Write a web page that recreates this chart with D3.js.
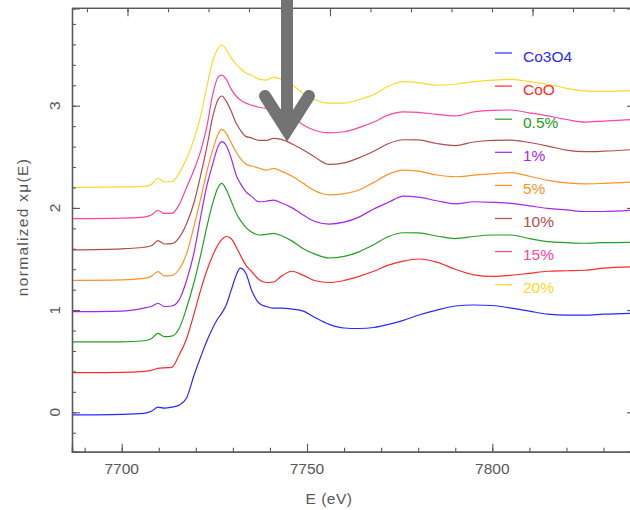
<!DOCTYPE html>
<html><head><meta charset="utf-8">
<script src="https://cdn.jsdelivr.net/npm/d3@7/dist/d3.min.js"></script>
<style>html,body{margin:0;padding:0;background:#fff}svg{display:block}</style>
</head><body>
<svg id="chart" width="630" height="510"></svg>
<script>
// ---- data (offset-stacked normalized xmu(E), as plotted) ----
const energy = [7686, 7700, 7706, 7708, 7709.8, 7711.5, 7713.5, 7715.5, 7717.5, 7719.5, 7721.5, 7723, 7724.5, 7726, 7727, 7728.2, 7729.5, 7731, 7732, 7733.5, 7735, 7737, 7739, 7741, 7743, 7746, 7749, 7752, 7756, 7760, 7764, 7768, 7772, 7776, 7780, 7785, 7790, 7795, 7800, 7805, 7810, 7815, 7820, 7825, 7830, 7839];
const seriesNames = ["Co3O4", "CoO", "0.5%", "1%", "5%", "10%", "15%", "20%"];
const co3o4 = [-0.026,-0.02,-0.01,0.01,0.05,0.04,0.05,0.07,0.14,0.36,0.56,0.70,0.82,0.92,0.97,1.05,1.19,1.35,1.41,1.36,1.20,1.07,1.035,1.02,1.02,1.01,0.99,0.93,0.86,0.825,0.82,0.83,0.86,0.90,0.95,1.0,1.04,1.05,1.045,1.02,0.99,0.96,0.95,0.95,0.96,0.97];
const coo = [0.388,0.39,0.40,0.41,0.43,0.435,0.44,0.56,0.72,0.96,1.22,1.39,1.53,1.64,1.69,1.72,1.70,1.61,1.54,1.44,1.38,1.30,1.27,1.275,1.33,1.38,1.34,1.29,1.27,1.29,1.33,1.38,1.44,1.48,1.50,1.47,1.40,1.345,1.33,1.34,1.36,1.38,1.385,1.39,1.41,1.425];
const p05 = [0.689,0.69,0.70,0.72,0.773,0.74,0.745,0.82,1.02,1.27,1.57,1.82,2.04,2.2,2.24,2.18,2.07,1.94,1.88,1.81,1.765,1.735,1.74,1.751,1.73,1.675,1.6,1.55,1.51,1.525,1.57,1.64,1.72,1.757,1.755,1.725,1.70,1.72,1.735,1.735,1.70,1.67,1.66,1.654,1.66,1.664];
const p1 = [0.984,0.99,1.02,1.035,1.067,1.035,1.04,1.10,1.29,1.56,1.95,2.22,2.42,2.6,2.648,2.61,2.49,2.31,2.24,2.16,2.115,2.06,2.065,2.077,2.05,2.0,1.93,1.87,1.842,1.86,1.91,1.99,2.055,2.115,2.105,2.07,2.04,2.06,2.055,2.045,2.02,1.995,1.98,1.965,1.965,1.98];
const p5 = [1.29,1.295,1.31,1.33,1.376,1.334,1.34,1.40,1.55,1.82,2.12,2.36,2.56,2.72,2.769,2.73,2.64,2.54,2.485,2.43,2.41,2.39,2.37,2.387,2.36,2.31,2.24,2.17,2.128,2.14,2.175,2.25,2.33,2.37,2.36,2.322,2.305,2.32,2.335,2.345,2.31,2.27,2.245,2.235,2.24,2.256];
const p10 = [1.59,1.6,1.615,1.63,1.679,1.647,1.65,1.71,1.845,2.05,2.35,2.6,2.88,3.06,3.095,3.045,2.95,2.82,2.762,2.70,2.685,2.66,2.66,2.68,2.67,2.625,2.566,2.5,2.425,2.44,2.49,2.555,2.63,2.667,2.665,2.63,2.61,2.645,2.66,2.664,2.64,2.605,2.565,2.55,2.555,2.573];
const p15 = [1.895,1.9,1.91,1.93,1.975,1.947,1.947,2.03,2.2,2.37,2.58,2.8,3.1,3.28,3.3,3.26,3.165,3.09,3.056,3.025,3.005,2.985,2.975,2.98,2.96,2.9,2.81,2.76,2.735,2.745,2.785,2.84,2.91,2.94,2.935,2.915,2.9,2.94,2.955,2.958,2.93,2.9,2.865,2.84,2.85,2.867];
const p20 = [2.2,2.205,2.21,2.23,2.29,2.256,2.256,2.34,2.48,2.67,2.93,3.19,3.43,3.56,3.594,3.55,3.47,3.40,3.366,3.32,3.30,3.26,3.25,3.28,3.26,3.205,3.12,3.06,3.025,3.025,3.06,3.11,3.19,3.235,3.225,3.2,3.21,3.235,3.25,3.258,3.235,3.21,3.17,3.145,3.14,3.15];
const seriesValues = [co3o4, coo, p05, p1, p5, p10, p15, p20];
const colors = ["#2a2aff", "#ff2a2a", "#22a022", "#a526f0", "#ff9226", "#b44c4c", "#ff44a2", "#ffd82a"];
const xTicks = [7700, 7750, 7800];
const yTicks = [0, 1, 2, 3];
// top frame carries its own evenly spaced tick marks (unlabelled)
const topMinorTicks = d3.range(0, 14);
const topMajorTicks = [1, 6, 11];
const arrowTarget = [7744.6, 2.645];

// ---- layout ----
const svg = d3.select("#chart");
const L = 72, R = 635, T = 8.3, B = 451.7;
const x = d3.scaleLinear().domain([7686.59, 7838.5]).range([L, R]);
const y = d3.scaleLinear().domain([-0.3855, 3.953]).range([B, T]);
const xTop = d3.scaleLinear().domain([0, 13]).range([87, 613.5]);
const axisColor = "#585858";
const font = "'Liberation Sans', Arial, sans-serif";

// clip
svg.append("defs").append("clipPath").attr("id", "clip")
  .append("rect").attr("x", L).attr("y", T).attr("width", R - L).attr("height", B - T);

// curves
const line = d3.line().x((d, i) => x(energy[i])).y(d => y(d)).curve(d3.curveMonotoneX);
const g = svg.append("g").attr("clip-path", "url(#clip)");
seriesValues.forEach((vals, k) => {
  g.append("path").datum(vals).attr("d", line)
    .attr("fill", "none").attr("stroke", colors[k]).attr("stroke-width", 1.2);
});

// axes
function frameAxis(axis, tx, ty) {
  const a = svg.append("g").attr("transform", `translate(${tx},${ty})`).call(axis);
  a.select(".domain").attr("stroke", axisColor).attr("stroke-width", 1.3);
  a.selectAll(".tick line").attr("stroke", axisColor).attr("stroke-width", 1.1);
  return a;
}
const xMinor = d3.range(7690, 7840, 10);
const yMinor = d3.range(-0.2, 3.95, 0.2).map(v => +v.toFixed(1));
// bottom
frameAxis(d3.axisTop(x).tickValues(xMinor).tickSize(4).tickFormat(""), 0, B);
frameAxis(d3.axisTop(x).tickValues(xTicks).tickSize(8).tickFormat(""), 0, B);
// top
frameAxis(d3.axisBottom(xTop).tickValues(topMinorTicks).tickSize(4).tickFormat(""), 0, T)
  .select(".domain").attr("d", `M${L},0H${R}`);
frameAxis(d3.axisBottom(xTop).tickValues(topMajorTicks).tickSize(8).tickFormat(""), 0, T)
  .select(".domain").attr("d", `M${L},0H${R}`);
// left
frameAxis(d3.axisRight(y).tickValues(yMinor).tickSize(4).tickFormat(""), L, 0);
frameAxis(d3.axisRight(y).tickValues(yTicks).tickSize(8).tickFormat(""), L, 0);
// right
frameAxis(d3.axisLeft(y).tickValues(yMinor).tickSize(4).tickFormat(""), R, 0);
frameAxis(d3.axisLeft(y).tickValues(yTicks).tickSize(8).tickFormat(""), R, 0);

// tick labels
svg.append("g").selectAll("text").data(xTicks).join("text")
  .attr("x", d => x(d)).attr("y", 473.5).attr("text-anchor", "middle")
  .attr("font-family", font).attr("font-size", 15.5).attr("fill", axisColor)
  .text(d => d);
svg.append("g").selectAll("text").data(yTicks).join("text")
  .attr("transform", d => `translate(60,${y(d)}) rotate(-90)`)
  .attr("text-anchor", "middle")
  .attr("font-family", font).attr("font-size", 15.5).attr("fill", axisColor)
  .text(d => d);

// axis titles
svg.append("text").attr("x", 329).attr("y", 504).attr("text-anchor", "middle")
  .attr("font-family", font).attr("font-size", 15.5).attr("fill", axisColor)
  .attr("letter-spacing", 0.5)
  .text("E (eV)");
svg.append("text").attr("transform", "translate(28,227) rotate(-90)")
  .attr("text-anchor", "middle")
  .attr("font-family", font).attr("font-size", 15.5).attr("fill", axisColor)
  .attr("letter-spacing", 1.3)
  .text("normalized xμ(E)");

// legend
const lg = svg.append("g");
seriesNames.forEach((name, k) => {
  const cy = 56 + k * 33.1;
  lg.append("line").attr("x1", 495).attr("x2", 512).attr("y1", cy - 3).attr("y2", cy - 3)
    .attr("stroke", colors[k]).attr("stroke-width", 1.2);
  lg.append("text").attr("x", 523).attr("y", cy + 5.5)
    .attr("font-family", font).attr("font-size", 15.5).attr("fill", colors[k])
    .text(name);
});

// arrow annotation
const ax = x(arrowTarget[0]), ay = y(arrowTarget[1]);
const arrowColor = "#737373";
svg.append("line").attr("x1", ax).attr("x2", ax).attr("y1", -5).attr("y2", ay - 10)
  .attr("stroke", arrowColor).attr("stroke-width", 12);
svg.append("polyline")
  .attr("points", [[ax - 22, ay - 46], [ax, ay - 11.5], [ax + 22, ay - 46]].map(p => p.join(",")).join(" "))
  .attr("fill", "none").attr("stroke", arrowColor).attr("stroke-width", 12)
  .attr("stroke-linecap", "round").attr("stroke-linejoin", "miter");
</script>
</body></html>
